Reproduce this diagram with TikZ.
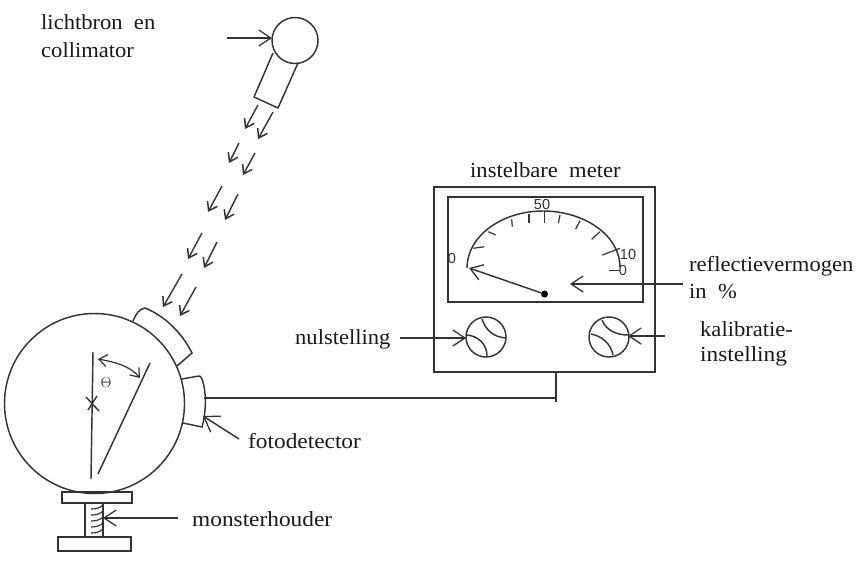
\documentclass[tikz,border=0pt]{standalone}
\usepackage{fontspec}
\setmainfont[FakeStretch=1.05]{Liberation Serif}
\newfontfamily\widefont[FakeStretch=1.085]{Liberation Serif}
\newfontfamily\dialfont{Liberation Sans}
\usetikzlibrary{arrows.meta}
\definecolor{ink}{HTML}{333333}
\tikzset{
  x=1pt,y=-1pt,
  ln/.style={draw=ink,line width=1.45pt},
  thin ln/.style={draw=ink,line width=1.2pt},
  callout/.style={ln,-{Straight Barb[length=12pt,width=16pt,line width=1.3pt]}},
  ray/.style={draw=ink,line width=1.4pt,-{Straight Barb[length=8pt,width=11pt,line width=1.5pt]}},
  lab/.style={inner sep=0pt,anchor=base west,text=black!90,font=\fontsize{21.5}{24}\selectfont},
  widelab/.style={lab,font=\widefont\fontsize{21.5}{24}\selectfont},
  dial/.style={inner sep=0pt,text=ink,font=\dialfont\fontsize{14.5}{16}\selectfont},
}
\begin{document}
\begin{tikzpicture}
\useasboundingbox (0,0) rectangle (865,579);
\fill[white] (0,0) rectangle (865,579);
% labels
\node[lab] (tLicht) at (41,29) {lichtbron\ \ en};
\node[lab] (tColl) at (41,57) {collimator};
\node[lab] (tMeter) at (470,177) {instelbare\ \ meter};
\node[lab] (tRefl) at (689,271) {reflectievermogen};
\node[lab] (tProc) at (689,298) {in\ \ \%};
\node[lab] (tNul) at (295,344) {nulstelling};
\node[lab] (tKal) at (700,336) {kalibratie-};
\node[widelab] (tInst) at (700,361) {instelling};
\node[widelab] (tFoto) at (248,448) {fotodetector};
\node[widelab] (tMons) at (192,526) {monsterhouder};
% light source
\node[ln,circle,minimum size=46pt,inner sep=0pt] (lamp) at (295,40.5) {};
\coordinate (la) at (227,38); \coordinate (lb) at (272,38);
\draw[callout] (la) -- (lb);
\coordinate (c1) at (273,53); \coordinate (c2) at (254,97);
\coordinate (c3) at (278,108); \coordinate (c4) at (298,63);
\draw[ln,line join=round] (c1) -- (c2) -- (c3) -- (c4);
% rays
\foreach \a/\b/\c/\d in {258/105/245/129,273/112/258/139,239/143/229/163,255/153/243/175,222/186/208/212,238/194/225/220,202/233/188/259,217/242/204/268,182/274/163/307,196/287/180/316}
  \draw[ray] (\a,\b) -- (\c,\d);
% sphere
\node[ln,circle,minimum size=180pt,inner sep=0pt] (sphere) at (94.5,403.5) {};
\draw[ln] (133,321) .. controls (136,314) and (139,309) .. (145,308)
  .. controls (165,316) and (182,333) .. (192,353) -- (177,366);
\draw[ln] (182,379) -- (199,376) .. controls (203,376) and (205,390) .. (205.5,400)
  .. controls (205.5,410) and (204,420) .. (202,427) -- (183,423);
% wire
\coordinate (w1) at (204,398); \coordinate (w2) at (556,398); \coordinate (w3) at (556,372);
\draw[ln] (w1) -- (w2) -- (w3);
\draw[ln] (556,396) -- (556,402);
% detector arrow
\coordinate (fa) at (239,439); \coordinate (fb) at (203,416);
\draw[callout,-{Straight Barb[length=14pt,width=19pt,line width=1.3pt]}] (fa) -- (fb);
% inside sphere
\draw[ln] (93,352) -- (91,479);
\draw[ln] (150,363) -- (98,474);
\draw[ln] (86,397) -- (99,411);
\draw[ln] (88,410) -- (97,396);
\draw[thin ln,{Straight Barb[length=8pt,width=12pt]}-{Straight Barb[length=8pt,width=12pt]}] (98,359) .. controls (115,362) and (130,366) .. (140,378);
\node[dial,font=\fontsize{15}{16}\selectfont] (theta) at (106,383) {$\Theta$};
% holder
\draw[ln] (62,492) rectangle (132,503);
\draw[ln] (58,537) rectangle (131,551);
\draw[ln] (85,503) -- (85,537);
\draw[ln] (103,503) -- (103,537);
\foreach \y in {508,514,520,526,532}
  \draw[thin ln] (103,\y-3) .. controls (100,\y) and (96,\y+1) .. (91,\y+1);
\coordinate (ma) at (178,518); \coordinate (mb) at (103,518);
\draw[callout] (ma) -- (mb);
% meter
\draw[ln] (434,187) rectangle (655,372);
\draw[ln] (448,197) rectangle (643,302);
\draw[ln] (467,268) .. controls (467,236) and (502,211) .. (543,211)
  .. controls (585,211) and (620,236) .. (620,267);
\foreach \a/\b/\c/\d in {473.3/248.3/484.3/246.7,488.3/231.7/495.7/235,511.7/219.3/512.3/226.7,529/214/529/222.7,544.3/211.7/544.3/223.3,560/215/558.3/223.3,580/220.7/575.7/229,600/231.7/591.7/239.3,620/248.3/602.3/255,620/270.7/609/270.7}
  \draw[thin ln] (\a,\b) -- (\c,\d);
\node[dial] (d0) at (452,259) {0};
\node[dial] (d50) at (542,205) {50};
\node[dial] (d10) at (628,255) {10};
\node[dial] (d00) at (623,271) {0};
\node[circle,fill=black,minimum size=7pt,inner sep=0pt] (pivot) at (544.5,294) {};
\coordinate (ntip) at (469,268);
\draw[callout] (pivot) -- (ntip);
\coordinate (ra) at (683,284); \coordinate (rb) at (570,284);
\draw[callout] (ra) -- (rb);
% knobs
\node[ln,circle,minimum size=40pt,inner sep=0pt] (knobL) at (486,337) {};
\node[ln,circle,minimum size=40pt,inner sep=0pt] (knobR) at (609,337) {};
\draw[ln] (482,319) .. controls (486,331) and (494,337) .. (506,338);
\draw[ln] (467,335) .. controls (478,336) and (487,344) .. (487,356);
\draw[ln] (602,320) .. controls (606,330) and (616,335) .. (628,335);
\draw[ln] (591,334) .. controls (602,336) and (611,344) .. (613,355);
\coordinate (na) at (400,338); \coordinate (nb) at (466,338);
\draw[callout] (na) -- (nb);
\coordinate (ka) at (665,336); \coordinate (kb) at (628,336);
\draw[callout] (ka) -- (kb);
\end{tikzpicture}
\end{document}
